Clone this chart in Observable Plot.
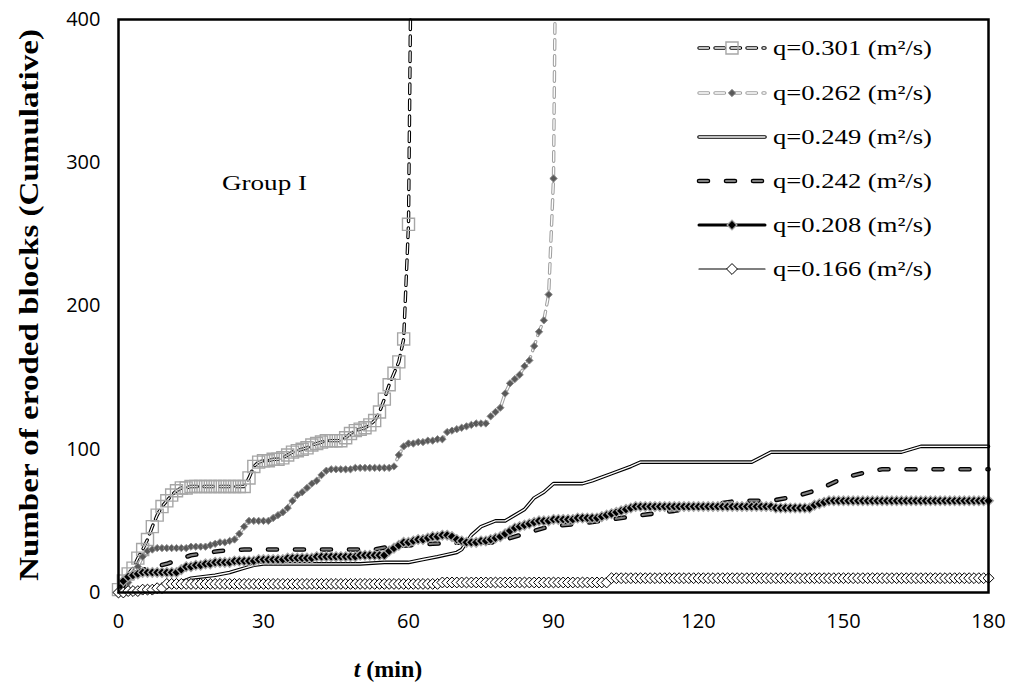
<!DOCTYPE html>
<html><head><meta charset="utf-8">
<script src="https://cdn.jsdelivr.net/npm/d3@7"></script>
<script src="https://cdn.jsdelivr.net/npm/@observablehq/plot@0.6"></script>
<style>
html,body{margin:0;padding:0;background:#fff;}
#chart{position:relative;width:1018px;height:693px;}
#chart > svg{position:absolute;left:0;top:0;}
</style></head>
<body><div id="chart"></div>
<script>
// ---------- data ----------
const xTicks = [0, 30, 60, 90, 120, 150, 180];
const yTicks = [0, 100, 200, 300, 400];
const seriesNames = ["q=0.301 (m²/s)", "q=0.262 (m²/s)", "q=0.249 (m²/s)", "q=0.242 (m²/s)", "q=0.208 (m²/s)", "q=0.166 (m²/s)"];

// cumulative eroded blocks, one reading per minute (t = index, min)
const q301 = [2,8,13,17,24,30,37,46,54,60, 64,68,71,73,73,74,74,74,74,74, 74,74,74,74,74,74,74,80,88,91,
  92,92,93,93,94,96,98,99,100,101, 103,104,105,106,106,106,106,108,111,113, 114,115,117,120,126,135,145,153,161,177, 257];
const q301Exit = [60.4, 400];   // curve leaves the frame

const q262 = [0,3,7,12,18,25,29,30,31,31, 31,31,31,31,31,32,32,32,32,33, 34,35,35,36,37,41,46,50,50,50,
  50,50,52,54,56,59,64,68,70,73, 76,78,82,85,86,86,86,86,86,87, 87,87,87,87,87,87,87,88,96,102,
  104,104,105,105,106,106,107,107,112,113, 114,115,116,117,118,118,118,123,126,129,
  139,146,149,152,158,162,172,182,190,208, 289];
const q262Exit = [90.3, 400];

// line-only series: time (min) and value pairs
const q249T = [0,3,8,12,15,20,23,26,28,30,40,50,55,58,60,63,66,70,71,73,75,78,80,84,86,88,90,96,98,102,106,108,131,135,162,166,180];
const q249V = [0,1,3,6,10,12,14,17,19,20,20,20,21,21,21,23,25,28,30,40,46,50,50,58,66,70,76,76,78,83,88,91,91,98,98,102,102];

const q242T = [0,1,3,6,10,15,21,26,53,56,65,72,78,84,89,95,100,106,115,122,128,135,140,145,150,156,158,180];
const q242V = [0,5,13,17,20,26,29,30,30,32,34,35,35,41,46,48,50,53,57,61,64,64,67,72,80,85,86,86];

const q208 = [0,8,11,12,13,14,14,14,14,14, 14,14,14,16,18,18,19,19,20,20, 21,21,21,21,22,22,22,22,22,23,
  23,23,23,23,23,24,24,24,24,24, 24,25,25,25,25,25,25,25,25,25, 26,26,26,26,26,26,29,31,33,35,
  35,36,37,37,38,39,39,40,40,39, 37,36,35,35,35,36,36,37,38,39, 41,43,45,46,47,48,49,50,50,50,
  51,51,51,51,51,52,52,52,52,52, 53,54,55,56,57,58,59,60,60,60, 60,60,60,60,60,60,60,60,60,60,
  60,60,60,60,60,60,60,60,60,60, 60,60,60,60,60,60,59,59,59,59, 59,59,59,59,61,62,63,64,64,64,
  64,64,64,64,64,64,64,64,64,64, 64,64,64,64,64,64,64,64,64,64, 64,64,64,64,64,64,64,64,64,64, 64];

const q166 = [
  0,0,1,1,1,2,2,2,3,3,
  6,6,6,6,6,6,6,6,6,6,
  6,6,6,6,6,6,6,6,6,6,
  6,6,6,6,6,6,6,6,6,6,
  6,6,6,6,6,6,6,6,6,6,
  6,6,6,6,6,6,6,6,6,6,
  6,6,6,6,6,6,6,7,7,7,
  7,7,7,7,7,7,7,7,7,7,
  7,7,7,7,7,7,7,7,7,7,
  7,7,7,7,7,7,7,7,7,7,
  7,7,10,10,10,10,10,10,10,10,
  10,10,10,10,10,10,10,10,10,10,
  10,10,10,10,10,10,10,10,10,10,
  10,10,10,10,10,10,10,10,10,10,
  10,10,10,10,10,10,10,10,10,10,
  10,10,10,10,10,10,10,10,10,10,
  10,10,10,10,10,10,10,10,10,10,
  10,10,10,10,10,10,10,10,10,10,
  10];

// ---------- build tables ----------
const perMinute = arr => arr.map((v, i) => ({t: i, v}));
const pairs = (T, V) => T.map((t, i) => ({t, v: V[i]}));
const d301 = perMinute(q301), d262 = perMinute(q262), d208 = perMinute(q208), d166 = perMinute(q166);
const l301 = d301.concat([{t: q301Exit[0], v: q301Exit[1]}]);
const l262 = d262.concat([{t: q262Exit[0], v: q262Exit[1]}]);
const d249 = pairs(q249T, q249V), d242 = pairs(q242T, q242V);

// ---------- styles ----------
const ST = [
  {layers: [{stroke: "#000", w: 3.4, dash: "9.5,6.5"}, {stroke: "#fff", w: 1.3, dash: "9.5,6.5"}],
   marker: {symbol: "square", r: 6.8, fill: "none", stroke: "#a6a6a6", sw: 1.4}},
  {layers: [{stroke: "#a0a0a0", w: 3.4, dash: "9.5,6.5"}, {stroke: "#fff", w: 1.3, dash: "9.5,6.5"}],
   marker: {symbol: "diamond2", r: 3.3, fill: "#595959", stroke: "#8c8c8c", sw: 1}},
  {layers: [{stroke: "#000", w: 3.6, dash: null}, {stroke: "#fff", w: 1.4, dash: null}], marker: null},
  {layers: [{stroke: "#000", w: 4.6, dash: "9,18"}, {stroke: "#7f7f7f", w: 2, dash: "9,18"}], marker: null},
  {layers: [{stroke: "#000", w: 3, dash: null}],
   marker: {symbol: "diamond2", r: 4.4, fill: "#000", stroke: "#a6a6a6", sw: 1.3}},
  {layers: [{stroke: "#000", w: 1.2, dash: null}],
   marker: {symbol: "diamond2", r: 4.9, fill: "#fff", stroke: "#000", sw: 1}}
];
const lineData = [l301, l262, d249, d242, d208, d166];
const dotData = [d301, d262, null, null, d208, d166];

const marks = [];
ST.forEach((s, i) => {
  s.layers.forEach(L => marks.push(Plot.line(lineData[i], {
    x: "t", y: "v", stroke: L.stroke, strokeWidth: L.w,
    strokeDasharray: L.dash || undefined, strokeLinecap: "round", strokeLinejoin: "round"
  })));
  if (s.marker) marks.push(Plot.dot(dotData[i], {
    x: "t", y: "v", symbol: s.marker.symbol, r: s.marker.r,
    fill: s.marker.fill, stroke: s.marker.stroke, strokeWidth: s.marker.sw
  }));
});

const chart = Plot.plot({
  width: 1018, height: 693,
  marginLeft: 118, marginRight: 30, marginTop: 19, marginBottom: 101,
  style: {background: "#fff", color: "#000", fontFamily: "'Open Sans', sans-serif"},
  x: {domain: [0, 180]},
  y: {domain: [0, 400]},
  marks: [
    Plot.axisX(xTicks, {tickSize: 0, tickPadding: 21, fontSize: 20, label: null}),
    Plot.axisY(yTicks, {tickSize: 0, tickPadding: 18, fontSize: 20, label: null}),
    ...marks,
    Plot.frame({stroke: "#000", strokeWidth: 2.5})
  ]
});
const host = document.getElementById("chart");
host.appendChild(chart);

// ---------- overlay: legend, annotation, axis titles ----------
const ov = d3.select(host).append("svg").attr("width", 1018).attr("height", 693)
  .style("font-family", "'Liberation Serif', 'Times New Roman', serif");

const rowY = [48, 93, 137, 181, 225, 269];
const symMap = {square: d3.symbolSquare, diamond2: d3.symbolDiamond2};
seriesNames.forEach((name, i) => {
  const s = ST[i], y = rowY[i];
  s.layers.forEach(L => ov.append("line").attr("x1", 699).attr("x2", 765).attr("y1", y).attr("y2", y)
    .attr("stroke", L.stroke).attr("stroke-width", L.w).attr("stroke-linecap", "round")
    .attr("stroke-dasharray", L.dash));
  if (s.marker) ov.append("path")
    .attr("d", d3.symbol(symMap[s.marker.symbol], Math.PI * s.marker.r * s.marker.r)())
    .attr("transform", `translate(732,${y})`)
    .attr("fill", s.marker.fill).attr("stroke", s.marker.stroke).attr("stroke-width", s.marker.sw);
  ov.append("text").attr("x", 773).attr("y", y + 7).attr("font-size", 22)
    .attr("textLength", 159).attr("lengthAdjust", "spacingAndGlyphs").text(name);
});

ov.append("text").attr("x", 222).attr("y", 190).attr("font-size", 22)
  .attr("textLength", 85).attr("lengthAdjust", "spacingAndGlyphs").text("Group I");

const xt = ov.append("text").attr("x", 388).attr("y", 677).attr("text-anchor", "middle")
  .attr("font-size", 24).attr("font-weight", "bold");
xt.append("tspan").attr("font-style", "italic").text("t");
xt.append("tspan").text(" (min)");

ov.append("text").attr("transform", "translate(38,305) rotate(-90)").attr("text-anchor", "middle")
  .attr("font-size", 28).attr("font-weight", "bold")
  .attr("textLength", 552).attr("lengthAdjust", "spacingAndGlyphs")
  .text("Number of eroded blocks (Cumulative)");
</script>
</body></html>
